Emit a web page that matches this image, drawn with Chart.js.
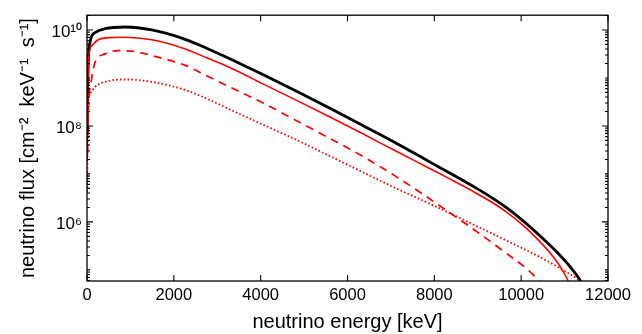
<!DOCTYPE html>
<html>
<head>
<meta charset="utf-8">
<script src="https://cdn.jsdelivr.net/npm/chart.js@4.4.1/dist/chart.umd.min.js"></script>
<style>
html,body{margin:0;padding:0;background:#fff;}
#wrap{width:642px;height:334px;position:relative;}
</style>
</head>
<body>
<div id="wrap"><canvas id="c" width="642" height="334"></canvas></div>
<script>
// ---- data (energy in keV, flux in cm^-2 keV^-1 s^-1) ----
const totalE    = [5, 20, 69, 185, 415, 877, 1493, 2262, 2769, 3277, 4038, 4816, 5585, 6353, 7124, 7892, 8354, 8892, 9277, 9662, 10046, 10431, 10816, 11123, 11354, 11492];
const totalFlux = [7.36e7, 9.89e8, 5.49e9, 8.80e9, 1.063e10, 1.152e10, 1.0e10, 6.38e9, 4.12e9, 2.54e9, 1.194e9, 5.35e8, 2.36e8, 1.024e8, 4.375e7, 1.784e7, 1.046e7, 5.53e6, 3.415e6, 1.984e6, 1.048e6, 5.16e5, 2.39e5, 1.177e5, 6.16e4, 3.5e4];

const solidE    = [5, 15, 30, 108, 260, 570, 877, 1493, 2262, 2769, 3277, 4038, 4816, 5585, 6353, 7124, 7892, 8354, 8892, 9277, 9662, 10046, 10431, 10739, 10970, 11072, 11125];
const solidFlux = [1.78e7, 3.03e8, 2.31e9, 4.70e9, 6.24e9, 6.95e9, 7.05e9, 6.24e9, 4.02e9, 2.60e9, 1.663e9, 7.62e8, 3.45e8, 1.548e8, 6.85e7, 2.957e7, 1.30e7, 7.88e6, 4.32e6, 2.72e6, 1.604e6, 8.48e5, 3.89e5, 1.87e5, 9.21e4, 6.16e4, 4.86e4];

const dashedE    = [10, 30, 108, 185, 415, 721, 1107, 1493, 2262, 2769, 3277, 4046, 4816, 5585, 6353, 7124, 7892, 8430, 9046, 9584, 10124, 10384, 10546];
const dashedFlux = [2.86e7, 1.891e8, 9.74e8, 2.105e9, 3.173e9, 3.71e9, 3.54e9, 2.93e9, 1.826e9, 1.096e9, 6.55e8, 3.035e8, 1.297e8, 5.54e7, 2.313e7, 8.78e6, 3.035e6, 1.392e6, 5.67e5, 2.483e5, 1.061e5, 6.31e4, 4.22e4];

const dottedE    = [5, 15, 30, 92, 185, 415, 877, 1493, 2262, 2769, 3277, 4046, 4816, 5585, 6353, 7124, 7892, 8892, 9662, 10431, 10970, 11277, 11400];
const dottedFlux = [4.32e6, 4.59e7, 3.035e8, 4.98e8, 6.55e8, 8.30e8, 9.29e8, 8.30e8, 5.61e8, 3.665e8, 2.232e8, 1.073e8, 5.16e7, 2.368e7, 1.086e7, 4.98e6, 2.396e6, 8.89e5, 4.08e5, 1.853e5, 9.88e4, 6.68e4, 5.48e4];

const xTicks = [0, 2000, 4000, 6000, 8000, 10000, 12000];
const yTicks = [1e6, 1e8, 1e10];
const yTickLabels = ['10\u2076', '10\u2078', '10\u00b9\u2070'];

const xTitle = 'neutrino energy [keV]';
const yTitle = 'neutrino flux [cm\u207b\u00b2  keV\u207b\u00b9  s\u207b\u00b9]';

const pts = (xs, ys) => xs.map((x, i) => ({x: x, y: ys[i]}));

const FONT = 'Liberation Sans, Arial, Helvetica, sans-serif';

const frame = {
  id: 'frame',
  afterDatasetsDraw(chart) {
    const {ctx, chartArea: {left, right, top, bottom}, scales: {x, y}} = chart;
    ctx.save();
    ctx.strokeStyle = '#000';
    ctx.lineWidth = 1.3;
    ctx.strokeRect(left, top, right - left, bottom - top);
    ctx.lineWidth = 1.1;
    ctx.beginPath();
    for (const v of xTicks) {
      const px = x.getPixelForValue(v);
      ctx.moveTo(px, bottom); ctx.lineTo(px, bottom - 6);
      ctx.moveTo(px, top); ctx.lineTo(px, top + 6);
    }
    const lo = Math.floor(Math.log10(y.min)), hi = Math.ceil(Math.log10(y.max));
    for (let d = lo; d <= hi; d++) {
      for (let k = 1; k <= 9; k++) {
        const v = k * Math.pow(10, d);
        if (v < y.min || v > y.max) continue;
        const py = y.getPixelForValue(v);
        const major = yTicks.some(t => Math.abs(t - v) / t < 1e-9);
        const len = major ? 6 : 3;
        ctx.moveTo(left, py); ctx.lineTo(left + len, py);
        ctx.moveTo(right, py); ctx.lineTo(right - len, py);
      }
    }
    ctx.stroke();
    ctx.restore();
  }
};

new Chart(document.getElementById('c'), {
  type: 'line',
  data: {
    datasets: [
      {data: pts(dottedE, dottedFlux), borderColor: '#ff0000', borderWidth: 1.8, borderDash: [1.6, 2.2]},
      {data: pts(dashedE, dashedFlux), borderColor: '#ff0000', borderWidth: 1.7, borderDash: [8, 6]},
      {data: pts(solidE, solidFlux), borderColor: '#ff0000', borderWidth: 1.6},
      {data: pts(totalE, totalFlux), borderColor: '#000000', borderWidth: 2.8}
    ]
  },
  options: {
    responsive: false,
    animation: false,
    devicePixelRatio: 1,
    elements: {point: {radius: 0}, line: {cubicInterpolationMode: 'monotone', fill: false}},
    plugins: {legend: {display: false}, tooltip: {enabled: false}},
    layout: {padding: {left: 0, top: 11, right: 34, bottom: 0}},
    scales: {
      x: {
        type: 'linear', min: 0, max: 12000,
        afterBuildTicks: s => { s.ticks = xTicks.map(v => ({value: v})); },
        afterFit: s => { s.height = 53; },
        grid: {display: false, drawTicks: false},
        border: {display: false},
        ticks: {color: '#000', font: {family: FONT, size: 16.5}, padding: 5, maxRotation: 0,
                callback: v => String(v)},
        title: {display: true, text: xTitle, color: '#000', font: {family: FONT, size: 20}, padding: {top: 0, bottom: 0}}
      },
      y: {
        type: 'logarithmic', min: 5.87e4, max: 2.03e10,
        afterBuildTicks: s => { s.ticks = yTicks.map(v => ({value: v})); },
        afterFit: s => { s.width = 87; },
        grid: {display: false, drawTicks: false},
        border: {display: false},
        ticks: {color: '#000', font: {family: FONT, size: 17}, padding: 5, labelOffset: 2,
                callback: (v) => { const i = yTicks.findIndex(t => Math.abs(t - v) / t < 1e-9); return i >= 0 ? yTickLabels[i] : ''; }},
        title: {display: true, text: yTitle, color: '#000', font: {family: FONT, size: 20}, padding: {top: 16, bottom: 0}}
      }
    }
  },
  plugins: [frame]
});
</script>
</body>
</html>
